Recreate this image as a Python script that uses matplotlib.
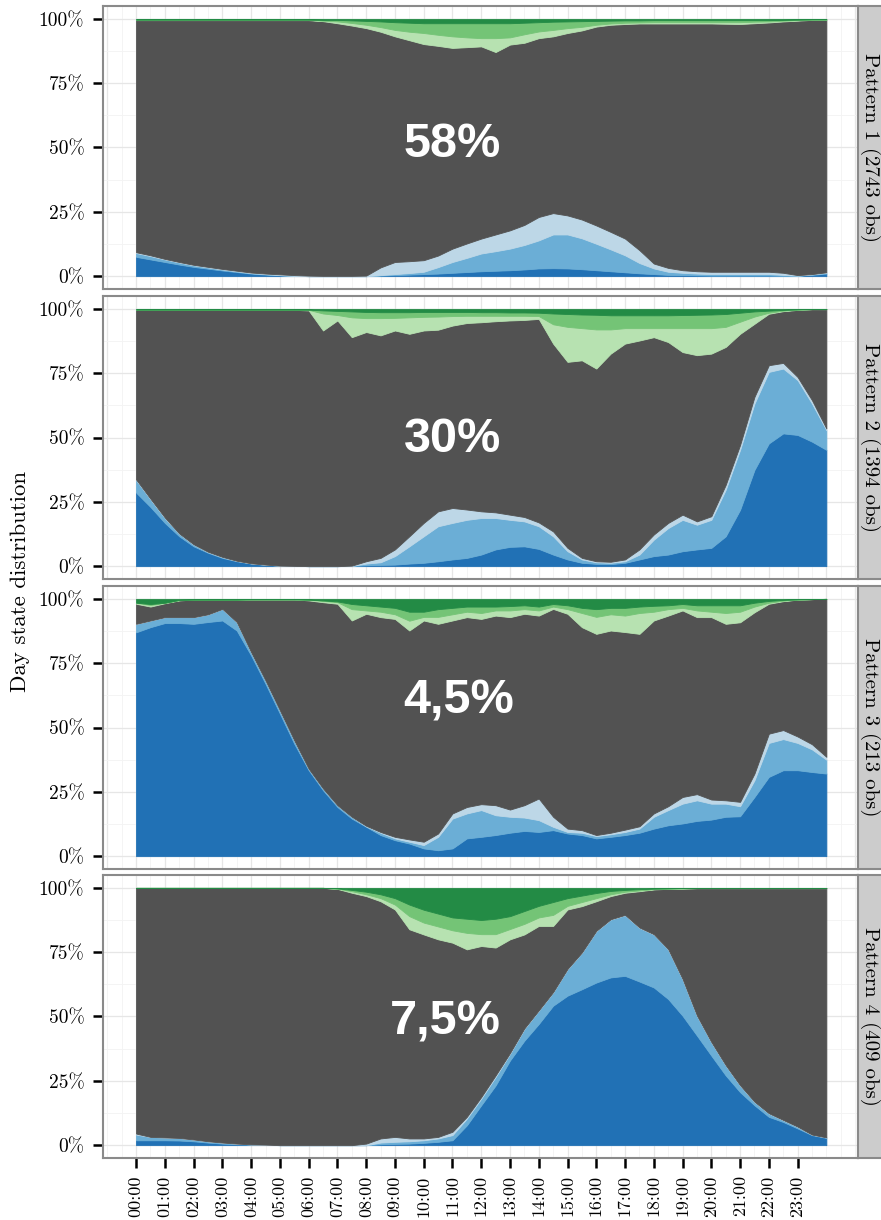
import numpy as np
import matplotlib
matplotlib.use("Agg")
import matplotlib.pyplot as plt
from matplotlib.ticker import MultipleLocator


# -------------------------------------------------------------
# Data: share (%) of each day state, read every half hour
# -------------------------------------------------------------
hours = np.arange(0, 24.5, 0.5)

# Pattern 1
p1_blue_dark = [7.5, 6.5, 5.5, 4.5, 3.6, 2.9, 2.2, 1.6, 1.0, 0.6,
                0.3, 0.1, 0, 0, 0, 0, 0, 0.2, 0.4, 0.6,
                0.8, 1.0, 1.3, 1.6, 1.9, 2.1, 2.3, 2.6, 3.0, 3.1,
                3.0, 2.7, 2.3, 1.9, 1.5, 1.1, 0.8, 0.5, 0.4, 0.3,
                0.2, 0.2, 0.2, 0.2, 0.2, 0.1, 0.1, 0.5, 1.0]
p1_blue_mid = [1.5, 1.3, 1.0, 0.8, 0.6, 0.5, 0.4, 0.3, 0.2, 0.2,
               0.1, 0, 0, 0, 0, 0, 0, 0.2, 0.4, 0.6,
               0.9, 2.5, 4.2, 5.5, 6.9, 7.6, 8.4, 9.5, 10.9, 13.1,
               13.2, 12.0, 10.3, 8.5, 6.6, 4.0, 2.2, 1.2, 0.9, 0.7,
               0.6, 0.6, 0.6, 0.6, 0.6, 0.4, 0.1, 0.2, 0.3]
p1_blue_light = [0.3, 0.3, 0.2, 0.2, 0.2, 0.2, 0.2, 0.2, 0.2, 0.2,
                 0.3, 0.3, 0.2, 0.1, 0.1, 0.1, 0.2, 3.0, 4.7, 4.6,
                 4.5, 4.5, 5.2, 5.6, 5.8, 6.5, 7.1, 7.8, 9.1, 8.3,
                 7.4, 7.3, 7.1, 6.8, 6.5, 5.0, 1.9, 1.5, 1.0, 0.9,
                 0.9, 0.9, 0.9, 0.9, 0.9, 0.8, 0.2, 0.1, 0.2]
p1_green_light = [0.1, 0.1, 0.1, 0.1, 0.1, 0.1, 0.1, 0.1, 0.1, 0.1,
                  0.1, 0.1, 0.1, 0.2, 0.7, 1.0, 1.3, 1.8, 2.5, 3.3,
                  4.3, 4.3, 4.5, 3.8, 3.2, 5.4, 2.8, 3.3, 2.6, 2.5,
                  1.9, 1.4, 0.7, 0.5, 0.5, 0.4, 0.5, 0.5, 0.5, 0.5,
                  0.5, 0.6, 0.7, 0.6, 0.4, 0.3, 0.2, 0.1, 0.1]
p1_green_mid = [0.1, 0.1, 0.1, 0.1, 0.1, 0.1, 0.1, 0.1, 0.1, 0.1,
                0.1, 0.1, 0.1, 0.3, 0.6, 1.0, 1.5, 2.2, 3.0, 3.5,
                3.8, 4.5, 5.1, 5.5, 5.8, 5.8, 5.5, 4.5, 3.6, 3.2,
                2.6, 2.2, 1.5, 1.1, 0.9, 0.8, 0.8, 0.8, 0.8, 0.8,
                0.8, 0.8, 0.8, 0.6, 0.5, 0.3, 0.2, 0.1, 0.1]
p1_green_dark = [0.3, 0.3, 0.3, 0.3, 0.3, 0.3, 0.3, 0.3, 0.3, 0.3,
                 0.3, 0.3, 0.3, 0.4, 0.4, 0.6, 0.8, 1.0, 1.3, 1.5,
                 1.7, 1.7, 1.7, 1.7, 1.7, 1.7, 1.7, 1.5, 1.3, 1.1,
                 1.0, 0.9, 0.8, 0.7, 0.6, 0.6, 0.5, 0.5, 0.5, 0.5,
                 0.5, 0.5, 0.5, 0.5, 0.5, 0.4, 0.3, 0.2, 0.2]

# Pattern 2
p2_blue_dark = [28.6, 23.0, 16.8, 11.6, 7.7, 5.2, 3.2, 1.9, 1.0, 0.5,
                0.2, 0.1, 0, 0, 0, 0.1, 0.3, 0.5, 0.6, 1.0,
                1.3, 1.9, 2.6, 3.2, 4.5, 6.5, 7.5, 7.7, 6.7, 4.5,
                2.6, 1.3, 0.9, 0.8, 1.3, 2.6, 3.9, 4.5, 5.8, 6.5,
                7.1, 11.6, 21.9, 37.4, 47.7, 51.6, 51.0, 48.4, 45.2]
p2_blue_mid = [4.9, 3.0, 1.9, 1.0, 0.7, 0.3, 0.3, 0.2, 0.1, 0.1,
               0, 0, 0, 0, 0, 0, 0.7, 1.0, 3.3, 6.7,
               10.3, 13.6, 14.2, 14.8, 14.2, 12.2, 10.5, 9.7, 8.8, 7.1,
               3.2, 1.3, 0.6, 0.5, 0.6, 1.9, 6.4, 10.3, 12.2, 9.6,
               10.9, 18.1, 23.3, 25.8, 27.8, 25.2, 21.3, 14.8, 7.7]
p2_blue_light = [0.2, 0.2, 0.2, 0.1, 0.1, 0.1, 0.1, 0, 0, 0,
                 0, 0, 0, 0, 0, 0.1, 0.9, 1.7, 2.6, 3.9,
                 5.2, 5.8, 5.8, 4.0, 2.6, 2.2, 2.0, 1.7, 1.5, 1.9,
                 1.3, 0.6, 0.4, 0.4, 0.7, 2.0, 2.0, 2.0, 2.0, 1.3,
                 1.4, 1.9, 1.9, 2.6, 2.6, 2.2, 1.2, 1.3, 0.6]
p2_green_light = [0, 0, 0, 0, 0, 0, 0, 0, 0, 0,
                  0, 0, 0.2, 6.6, 2.1, 7.7, 5.4, 6.7, 4.9, 6.4,
                  5.3, 5.1, 3.7, 2.8, 2.5, 2.1, 1.8, 1.6, 1.1, 7.5,
                  13.6, 12.5, 15.2, 9.4, 6.0, 4.8, 3.5, 5.4, 9.3, 10.5,
                  9.9, 7.8, 4.7, 2.8, 0.4, 0.2, 0.1, 0, 0]
p2_green_mid = [0.1, 0.1, 0.1, 0.1, 0.1, 0.1, 0.1, 0.1, 0.1, 0.1,
                0.1, 0.1, 0.1, 1.2, 1.6, 2.3, 2.4, 2.3, 2.2, 2.0,
                1.9, 1.8, 1.6, 1.5, 1.4, 1.4, 1.3, 1.3, 1.3, 4.2,
                5.0, 5.3, 5.7, 5.5, 5.0, 5.0, 5.0, 5.0, 5.1, 5.2,
                5.3, 5.0, 3.5, 2.0, 0.8, 0.3, 0.1, 0, 0]
p2_green_dark = [0.3, 0.3, 0.3, 0.3, 0.3, 0.3, 0.3, 0.3, 0.3, 0.3,
                 0.3, 0.3, 0.3, 0.6, 0.8, 1.0, 1.2, 1.3, 1.3, 1.3,
                 1.2, 1.2, 1.2, 1.2, 1.3, 1.3, 1.4, 1.4, 1.5, 1.8,
                 2.0, 2.2, 2.3, 2.5, 2.5, 2.5, 2.5, 2.5, 2.4, 2.3,
                 2.2, 2.0, 1.5, 1.0, 0.7, 0.4, 0.2, 0.1, 0.1]

# Pattern 3
p3_blue_dark = [87.0, 89.0, 90.6, 90.6, 90.3, 91.0, 91.6, 87.7, 78.0, 67.0,
                55.4, 43.7, 33.4, 25.6, 19.1, 14.6, 11.4, 8.2, 6.2, 4.9,
                3.0, 2.3, 3.0, 6.9, 7.5, 8.2, 9.1, 9.8, 9.4, 10.1,
                8.8, 8.2, 6.9, 7.5, 8.2, 9.1, 10.7, 12.0, 12.7, 13.7,
                14.2, 15.3, 15.5, 23.0, 30.8, 33.4, 33.4, 32.7, 32.1]
p3_blue_mid = [3.3, 2.6, 2.3, 2.3, 2.6, 3.0, 4.5, 3.3, 1.3, 1.3,
               1.3, 1.3, 0.6, 0.7, 0.7, 0.7, 0.2, 0.9, 0.7, 0.7,
               1.3, 5.2, 11.6, 9.7, 10.4, 7.7, 6.2, 5.2, 4.6, 1.3,
               0.6, 0.9, 0.9, 1.0, 1.2, 1.6, 4.6, 5.9, 7.7, 8.0,
               6.2, 5.1, 3.9, 6.5, 13.2, 12.1, 10.6, 8.8, 5.4]
p3_blue_light = [0, 0, 0, 0, 0, 0, 0, 0, 0, 0,
                 0, 0, 0, 0, 0, 0, 0.2, 0.3, 0.6, 0.9,
                 1.3, 1.3, 2.0, 2.5, 2.3, 3.9, 2.8, 4.8, 8.4, 3.9,
                 1.3, 1.0, 0.4, 0.6, 0.9, 0.9, 1.3, 1.5, 2.6, 2.4,
                 1.6, 1.3, 1.7, 2.6, 3.6, 3.5, 2.5, 2.0, 1.1]
p3_green_light = [0.4, 0.6, 0.2, 0.1, 0, 0, 0, 0, 0, 0,
                  0, 0, 0.3, 0.5, 0.6, 4.4, 1.3, 2.1, 1.8, 3.8,
                  1.4, 2.7, 2.4, 2.1, 2.3, 2.0, 2.6, 1.8, 2.0, 0.9,
                  1.8, 5.5, 6.6, 6.3, 6.4, 8.1, 3.4, 2.5, 1.0, 2.6,
                  2.1, 4.2, 4.1, 2.2, 0.4, 0.2, 0, 0, 0]
p3_green_mid = [0, 0.4, 0, 0.1, 0, 0, 0, 0, 0, 0,
                0, 0, 0, 0.2, 0.3, 2.0, 2.0, 2.0, 2.5, 3.5,
                2.0, 3.0, 2.5, 2.0, 2.5, 1.5, 1.7, 1.5, 1.5, 1.0,
                1.5, 2.0, 3.0, 2.5, 3.0, 2.5, 2.3, 1.5, 1.5, 2.0,
                2.5, 3.0, 2.5, 1.5, 0.7, 0.3, 0.1, 0, 0]
p3_green_dark = [1.5, 2.0, 1.5, 0.4, 0.3, 0.3, 0.3, 0.3, 0.2, 0.2,
                 0.2, 0.2, 0.3, 0.6, 1.0, 2.0, 2.5, 3.0, 3.5, 5.0,
                 5.0, 4.0, 3.5, 3.0, 3.0, 3.0, 2.8, 2.5, 3.0, 2.0,
                 2.5, 3.5, 4.0, 3.5, 3.5, 3.0, 2.7, 2.5, 2.0, 2.5,
                 2.5, 2.5, 2.5, 1.5, 0.8, 0.4, 0.2, 0.1, 0]

# Pattern 4
p4_blue_dark = [1.9, 1.9, 1.9, 1.8, 1.5, 1.0, 0.6, 0.3, 0.2, 0.1,
                0, 0, 0, 0, 0, 0, 0, 0.3, 0.5, 0.6,
                0.9, 1.3, 1.9, 7.7, 15.5, 23.2, 32.9, 40.6, 47.1, 54.2,
                58.1, 60.6, 63.2, 65.2, 65.8, 63.6, 61.3, 56.8, 50.3, 42.6,
                34.8, 27.1, 20.6, 15.5, 11.0, 9.0, 6.5, 3.9, 2.8]
p4_blue_mid = [2.2, 1.3, 1.1, 1.0, 0.7, 0.5, 0.4, 0.3, 0.1, 0.1,
               0, 0, 0, 0, 0, 0, 0, 0.7, 0.8, 0.9,
               1.0, 1.3, 2.0, 2.6, 2.6, 3.3, 2.6, 4.6, 5.2, 5.2,
               10.3, 14.2, 20.0, 22.5, 23.6, 20.9, 20.6, 19.3, 14.2, 7.7,
               5.2, 3.9, 2.6, 1.3, 1.3, 0.7, 0.6, 0.2, 0.2]
p4_blue_light = [0.4, 0, 0, 0, 0, 0, 0, 0, 0, 0,
                 0, 0, 0, 0, 0, 0, 0.6, 1.6, 1.9, 1.1,
                 0.7, 0.6, 1.3, 0.7, 0.6, 0.6, 0.3, 0.2, 0.1, 0.1,
                 0.1, 0.1, 0.1, 0.1, 0.1, 0.1, 0.1, 0.1, 0.1, 0.1,
                 0.1, 0.1, 0.1, 0.1, 0.1, 0.1, 0.1, 0, 0]
p4_green_light = [0, 0, 0, 0, 0, 0, 0, 0, 0, 0,
                  0, 0, 0, 0, 0.1, 0.6, 0.7, 1.2, 1.9, 5.1,
                  4.6, 5.0, 4.8, 6.4, 4.6, 5.2, 4.0, 4.1, 3.3, 4.3,
                  1.4, 1.6, 1.2, 0.7, 0.4, 0.3, 0.1, 0.1, 0.1, 0,
                  0, 0, 0, 0, 0, 0, 0, 0, 0]
p4_green_mid = [0, 0, 0, 0, 0, 0, 0, 0, 0, 0,
                0, 0, 0, 0, 0.1, 0.5, 1.0, 1.5, 2.5, 4.5,
                5.0, 5.0, 5.0, 5.5, 5.5, 6.0, 5.0, 5.0, 4.5, 5.0,
                3.0, 2.5, 2.0, 1.3, 0.7, 0.5, 0.2, 0.1, 0.1, 0,
                0, 0, 0, 0, 0, 0, 0, 0, 0]
p4_green_dark = [0, 0, 0, 0, 0, 0, 0, 0, 0, 0,
                 0, 0, 0, 0, 0.2, 0.8, 1.5, 2.5, 4.0, 6.5,
                 8.5, 10.0, 11.5, 12.0, 12.5, 12.0, 11.0, 9.0, 7.0, 5.5,
                 4.0, 3.0, 2.0, 1.2, 0.8, 0.5, 0.3, 0.2, 0.1, 0.1,
                 0.1, 0.1, 0.1, 0.1, 0.1, 0.1, 0.1, 0.1, 0.1]

pattern_labels = ["Pattern 1 (2743 obs)", "Pattern 2 (1394 obs)",
                  "Pattern 3 (213 obs)", "Pattern 4 (409 obs)"]
pattern_shares = ["58%", "30%", "4,5%", "7,5%"]
tick_labels = [f"{h:02d}:00" for h in range(24)]

patterns = [
    [p1_blue_dark, p1_blue_mid, p1_blue_light, p1_green_light, p1_green_mid, p1_green_dark],
    [p2_blue_dark, p2_blue_mid, p2_blue_light, p2_green_light, p2_green_mid, p2_green_dark],
    [p3_blue_dark, p3_blue_mid, p3_blue_light, p3_green_light, p3_green_mid, p3_green_dark],
    [p4_blue_dark, p4_blue_mid, p4_blue_light, p4_green_light, p4_green_mid, p4_green_dark],
]


# -------------------------------------------------------------
# Style
# -------------------------------------------------------------
plt.rcParams['font.family'] = ['cmr10', 'DejaVu Serif']

state_colors = ["#2171b5", "#6baed6", "#bdd7e7", "#525252",
                "#b7e2b1", "#74c476", "#238b45"]
border_color = "#8a8a8a"

# share label placement (hour, % baseline)
share_x = [11.0, 11.0, 11.2, 10.75]
share_y = [46.5, 44.2, 55.4, 43.0]

W, H = 881, 1220
panel_tops = [6, 296, 586, 875]
panel_h = 283
left_px, right_px = 103, 858


# -------------------------------------------------------------
# Figure
# -------------------------------------------------------------
fig = plt.figure(figsize=(W / 100, H / 100), dpi=100)

for i, layers in enumerate(patterns):

    bottom = 1 - (panel_tops[i] + panel_h) / H
    ax = fig.add_axes([left_px / W, bottom, (right_px - left_px) / W, panel_h / H])

    blues = [np.array(v, dtype=float) for v in layers[:3]]
    greens = [np.array(v, dtype=float) for v in layers[3:]]
    gray = 100 - sum(blues) - sum(greens)

    ax.stackplot(hours, *blues, gray, *greens,
                 colors=state_colors, linewidth=0.6, edgecolor='face', zorder=2)

    ax.set_xlim(-1.15, 25.1)
    ax.set_ylim(-5, 105)

    # grid
    ax.set_axisbelow(True)
    ax.xaxis.set_major_locator(MultipleLocator(1))
    ax.xaxis.set_minor_locator(MultipleLocator(0.5))
    ax.set_yticks([0, 25, 50, 75, 100])
    ax.yaxis.set_minor_locator(MultipleLocator(12.5))
    ax.grid(which='major', color='#e6e6e6', linewidth=0.9, zorder=0)
    ax.grid(which='minor', color='#f3f3f3', linewidth=0.6, zorder=0)

    ax.set_yticklabels(["0%", "25%", "50%", "75%", "100%"])
    ax.tick_params(axis='y', which='major', length=7.5, width=1.8,
                   color='black', pad=6, labelsize=14)
    ax.tick_params(which='minor', length=0)

    if i == 3:
        ax.set_xticks(range(24))
        ax.set_xticklabels(tick_labels, rotation=90)
        ax.tick_params(axis='x', which='major', length=7.5, width=1.8,
                       color='black', pad=5, labelsize=13)
    else:
        ax.tick_params(axis='x', which='major', length=0, labelbottom=False)

    for sp in ax.spines.values():
        sp.set_color(border_color)
        sp.set_linewidth(1.5)

    # share of the pattern
    ax.text(share_x[i], share_y[i], pattern_shares[i], color='white',
            fontsize=35, fontweight='bold', family='Liberation Sans',
            ha='center', va='baseline', zorder=5)

    # facet strip (its right edge runs off the picture, as in the source)
    sax = fig.add_axes([right_px / W, bottom, 28 / W, panel_h / H])
    sax.set_facecolor('#cccccc')
    sax.set_xticks([])
    sax.set_yticks([])
    for sp in sax.spines.values():
        sp.set_color(border_color)
        sp.set_linewidth(1.5)
    fig.text(870 / W, bottom + panel_h / H / 2, pattern_labels[i],
             rotation=270, fontsize=15, ha='center', va='center')

fig.text(20 / W, 1 - 581 / H, "Day state distribution", rotation=90,
         fontsize=16.5, ha='center', va='center')

fig.savefig("out.png", dpi=100)
